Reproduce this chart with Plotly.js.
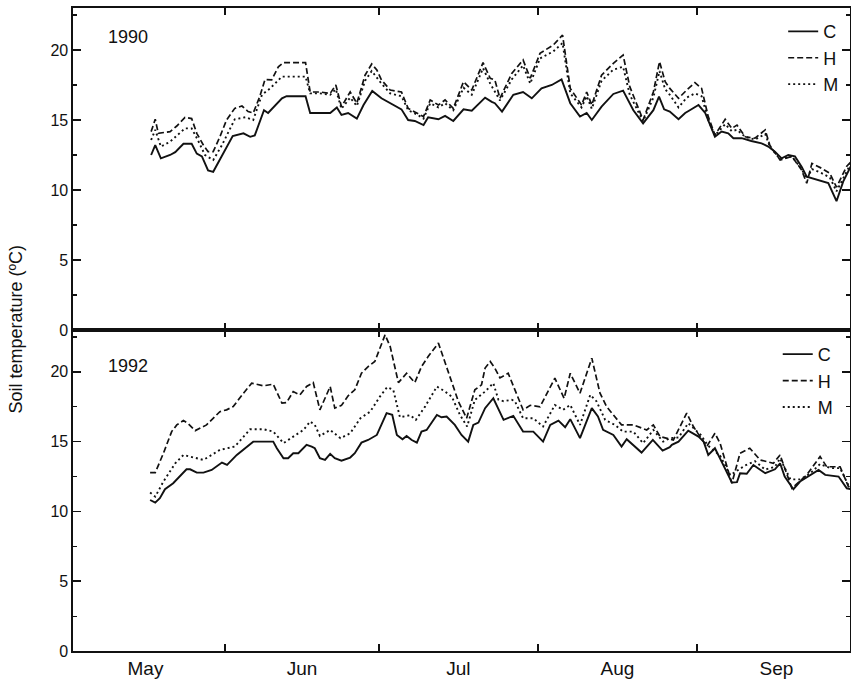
<!DOCTYPE html>
<html>
<head>
<meta charset="utf-8">
<script src="https://cdn.plot.ly/plotly-3.0.1.min.js"></script>
<style>html,body{margin:0;padding:0;background:#fff;}#chart{width:851px;height:681px;}</style>
</head>
<body>
<div id="chart"></div>
<script>
// Day offsets from 1 May (0 = May 1) and soil temperatures (°C)
const dayC90 = [16.6,17.4,18.5,20.3,21.3,22.9,24.5,25.5,26.5,27.7,28.7,30.7,32.5,34.6,35.9,36.8,38.6,39.4,42.1,43.0,46.7,47.6,49.5,51.5,52.8,53.7,55.0,56.7,58.0,59.7,61.5,63.8,65.4,66.7,68.0,69.7,70.6,72.6,73.9,75.5,77.5,79.1,81.7,83.0,83.6,85.0,87.2,89.1,90.8,92.7,94.7,96.6,98.3,100.2,101.5,102.5,104.4,106.7,108.6,110.6,112.5,114.5,115.6,116.6,117.7,119.4,120.7,121.6,123.3,124.6,126.5,127.8,129.1,130.1,131.7,133.6,135.6,136.9,138.2,139.5,140.8,142.1,143.4,144.4,145.4,147.3,148.6,150.2,151.5,153.0];
const tempC90 = [12.5,13.2,12.26,12.5,12.7,13.3,13.3,12.6,12.4,11.4,11.3,12.6,13.86,14.05,13.8,13.9,15.7,15.5,16.55,16.7,16.7,15.5,15.5,15.5,15.9,15.36,15.5,15.1,16.07,17.07,16.55,16.07,15.76,15.0,14.93,14.64,15.19,15.05,15.29,14.93,15.76,15.67,16.6,16.3,16.2,15.6,16.8,17.0,16.55,17.26,17.5,17.9,16.2,15.24,15.5,15.0,15.95,16.86,17.1,15.7,14.76,15.7,16.67,15.76,15.6,15.05,15.5,15.7,16.07,15.5,13.8,14.17,14.05,13.7,13.7,13.5,13.33,13.1,12.74,12.26,12.5,12.4,11.67,10.95,10.83,10.6,10.5,9.2,10.6,11.7];

const dayH90 = [16.6,17.4,18.0,20.3,21.6,23.2,24.5,25.5,26.8,27.7,28.7,30.0,31.3,32.9,34.3,35.5,36.5,37.8,38.8,40.1,41.4,42.4,46.7,47.6,49.5,51.5,52.6,53.7,55.4,56.7,58.3,59.6,60.6,61.5,63.2,65.4,66.7,68.4,69.7,71.0,72.6,73.9,75.5,77.5,79.1,81.3,82.7,83.6,84.6,86.9,89.1,90.5,92.4,95.0,96.8,98.3,100.5,101.5,102.5,104.4,106.7,108.6,109.9,112.5,114.5,115.7,116.8,117.7,119.4,121.0,122.6,123.9,125.2,126.5,128.5,129.8,130.8,132.4,134.3,136.3,137.2,139.2,141.5,143.4,144.4,145.4,147.3,148.9,150.2,152.2,153.0];
const tempH90 = [14.17,15.05,14.05,14.17,14.57,15.19,15.1,14.05,13.2,12.74,12.74,13.8,15.0,15.83,16.0,15.6,15.5,16.7,17.9,17.86,18.8,19.1,19.1,17.0,17.0,16.9,17.5,15.95,17.0,16.2,18.2,19.0,18.57,17.86,17.14,17.0,15.83,15.5,15.24,16.43,16.07,16.43,15.83,17.74,17.14,19.1,17.98,17.86,16.55,18.33,19.29,17.98,19.76,20.36,21.07,17.26,16.07,17.0,16.07,18.2,19.05,19.64,17.38,15.0,17.0,19.17,17.74,17.26,16.55,17.14,17.67,17.26,15.24,13.93,15.05,14.4,14.64,13.8,13.7,14.29,13.2,12.14,12.4,11.43,10.48,11.9,11.55,11.19,10.2,11.7,12.0];

const dayM90 = [16.6,17.4,18.5,20.3,23.2,24.5,25.7,27.1,28.7,30.4,32.9,35.0,36.5,38.2,39.8,42.1,46.7,47.6,49.5,51.5,52.6,53.7,55.4,56.7,58.3,59.6,61.5,63.2,65.4,66.7,68.4,69.7,71.0,72.6,73.9,75.5,77.5,79.1,81.3,82.7,84.6,86.9,89.1,90.5,92.4,95.0,96.8,98.3,100.5,101.5,102.5,104.4,106.7,108.6,109.9,112.5,114.5,115.7,116.8,117.7,119.4,121.0,122.6,123.9,125.2,126.5,128.5,129.8,130.8,132.4,134.3,136.3,137.2,139.2,141.5,143.4,144.4,145.4,147.3,148.9,150.2,152.2,153.0];
const tempM90 = [13.57,14.3,13.1,13.45,14.4,14.4,13.57,12.5,12.14,13.2,15.05,15.2,15.0,16.8,17.26,18.1,18.1,16.9,16.9,16.8,17.2,15.8,16.6,16.0,17.8,18.5,17.6,16.9,16.7,15.7,15.4,15.1,16.2,15.9,16.2,15.7,17.3,16.8,18.7,17.6,16.4,17.9,18.9,17.6,19.4,19.9,20.5,16.9,15.9,16.7,15.8,17.8,18.6,18.8,16.8,14.9,16.6,18.5,17.2,16.8,15.9,16.6,16.9,16.7,15.0,13.9,14.7,14.2,14.3,13.8,13.6,14.0,13.1,12.2,12.4,11.5,10.8,11.5,11.2,10.9,9.9,11.4,11.9];

const dayC92 = [16.4,17.4,18.3,19.3,20.9,22.2,23.5,24.2,25.5,26.8,28.4,30.4,31.4,33.3,36.5,38.5,40.4,41.1,42.4,43.3,44.3,45.3,46.9,47.9,48.5,49.5,50.5,51.5,52.4,53.7,55.4,56.3,57.6,58.9,60.6,62.5,63.6,64.5,65.6,66.4,67.4,68.4,69.3,70.3,72.3,73.2,74.2,75.8,77.1,78.4,79.4,80.4,81.7,83.3,84.3,85.3,87.2,89.1,91.1,93.0,94.4,96.0,97.3,98.3,100.2,101.2,102.5,103.7,104.7,106.7,108.3,109.3,110.6,112.2,114.4,116.3,117.7,118.1,119.4,121.3,123.3,124.3,125.2,126.5,127.8,129.8,130.8,131.4,132.7,134.0,134.9,136.3,138.2,139.2,140.1,141.8,143.1,144.7,146.7,148.0,150.6,152.2,153.0];
const tempC92 = [10.82,10.63,10.95,11.59,12.02,12.5,13.02,13.02,12.78,12.78,12.97,13.5,13.33,14.05,15.0,15.0,15.0,14.53,13.81,13.81,14.17,14.17,14.77,14.65,14.53,13.81,13.69,14.12,13.81,13.64,13.86,14.17,14.93,15.12,15.48,17.04,16.92,15.48,15.17,15.41,15.12,14.93,15.72,15.84,16.92,16.75,16.8,16.2,15.48,15.0,16.2,16.37,17.4,18.11,17.28,16.56,16.85,15.72,15.72,15.0,16.2,16.51,16.03,16.61,15.25,16.2,17.4,16.8,15.84,15.48,14.65,15.17,14.77,14.22,15.12,14.36,14.6,14.77,15.0,15.79,15.36,15.0,14.05,14.53,13.57,12.07,12.1,12.74,12.7,13.33,13.1,12.74,13.02,13.45,12.5,11.59,12.14,12.5,12.97,12.62,12.5,11.66,11.6];

const dayH92 = [16.4,17.4,19.0,20.6,21.6,22.9,23.8,25.2,27.4,30.0,31.3,32.6,34.6,36.2,38.5,40.4,42.1,43.0,44.3,45.6,46.9,48.2,49.5,51.5,52.4,53.7,55.0,56.3,57.6,58.9,60.2,62.2,63.2,64.8,66.4,68.0,69.3,70.6,72.6,74.5,76.5,78.1,79.7,81.0,81.7,82.7,83.6,84.6,86.2,89.1,90.5,92.4,95.3,97.1,98.3,100.2,102.5,104.1,105.4,108.3,110.6,113.2,114.5,115.8,118.4,121.0,122.3,124.9,126.5,127.5,129.8,131.4,133.3,135.3,137.9,139.2,141.5,144.4,147.0,148.3,150.9,152.5,153.0];
const tempH92 = [12.78,12.78,14.17,15.72,16.2,16.51,16.3,15.79,16.2,17.15,17.28,17.51,18.47,19.19,19.0,19.12,17.76,17.8,18.59,18.35,18.95,19.23,17.28,18.95,17.4,17.6,18.28,18.71,19.9,20.38,20.74,22.65,21.81,19.23,19.9,19.23,20.38,21.1,22.06,20.02,17.87,16.68,18.71,19.07,20.27,20.74,20.27,19.57,19.9,17.28,17.6,17.5,19.55,18.1,19.9,18.47,20.98,18.47,17.5,16.2,16.2,15.84,16.2,15.36,15.12,17.04,16.08,14.65,15.6,14.89,12.02,14.17,14.53,13.69,13.45,14.05,11.66,12.62,13.93,13.2,13.2,11.8,11.7];

const dayM92 = [16.4,17.4,19.0,21.3,22.9,24.2,26.8,30.0,32.9,35.9,38.5,40.4,42.4,44.3,46.3,47.6,48.5,49.5,51.5,53.5,55.4,57.4,59.3,61.2,62.6,63.8,65.1,67.1,68.2,70.0,72.3,73.9,75.2,76.8,78.2,79.7,81.7,83.3,84.3,85.3,86.9,87.5,89.1,91.1,93.0,95.3,96.9,98.3,100.2,102.2,103.4,105.1,107.0,108.6,110.6,112.5,114.5,116.4,117.7,119.4,121.3,123.7,125.2,127.5,129.5,132.4,134.3,136.3,138.2,139.2,141.2,143.1,145.0,147.0,149.0,150.9,152.5,153.0];
const tempM92 = [11.35,11.06,12.14,13.45,14.05,13.93,13.69,14.41,14.65,15.89,15.89,15.72,14.89,15.36,15.84,16.44,16.2,15.41,15.84,15.25,15.6,16.68,17.15,18.23,18.9,18.71,16.75,16.9,16.56,17.51,18.95,18.59,18.23,16.92,16.08,17.99,18.59,19.19,18.0,17.9,18.0,17.9,16.68,16.68,16.08,17.63,17.28,17.63,16.2,18.35,17.9,16.56,16.2,15.72,15.72,14.89,15.84,15.0,15.25,15.3,16.32,15.5,14.7,14.0,12.6,13.3,13.6,13.0,13.2,13.8,12.3,12.3,12.7,13.4,13.1,13.1,11.9,11.8];

const seriesNames = ['C', 'H', 'M'];
const yearLabels = ['1990', '1992'];
const yTitle = 'Soil temperature (ºC)';

function d2date(d) {
  const t = new Date(Date.UTC(1990, 4, 1) + Math.round(d * 864e5));
  return t.toISOString().slice(0, 19).replace('T', ' ');
}

const ink = '#111';
const styles = [
  {color: ink, width: 1.9, dash: 'solid'},
  {color: ink, width: 1.7, dash: '6px,3px'},
  {color: ink, width: 1.9, dash: '2px,3px'}
];

function mk(days, temps, i, top) {
  return {
    x: days.map(d2date), y: temps, type: 'scatter', mode: 'lines',
    name: seriesNames[i], line: styles[i],
    xaxis: top ? 'x2' : 'x', yaxis: top ? 'y2' : 'y',
    legend: top ? 'legend' : 'legend2',
    legendgroup: (top ? 't' : 'b') + i
  };
}

const data = [
  mk(dayC90, tempC90, 0, true), mk(dayH90, tempH90, 1, true), mk(dayM90, tempM90, 2, true),
  mk(dayC92, tempC92, 0, false), mk(dayH92, tempH92, 1, false), mk(dayM92, tempM92, 2, false)
];

const font = {family: 'Arial, "Liberation Sans", sans-serif', color: ink};
const split = 321 / 643;

const xBase = {
  type: 'date', range: [d2date(1.37), d2date(152.83)],
  tick0: '1990-05-01', dtick: 'M1', ticklabelmode: 'period', tickformat: '%b',
  ticks: 'inside', ticklen: 7, tickwidth: 1.5, tickcolor: ink,
  showline: true, linewidth: 1.6, linecolor: ink, mirror: 'ticks',
  showgrid: false, zeroline: false, tickfont: {size: 19}
};
const yBase = {
  range: [0, 23], tick0: 0, dtick: 5,
  ticks: 'inside', ticklen: 8, tickwidth: 1.5, tickcolor: ink,
  minor: {ticks: 'inside', ticklen: 4, tickwidth: 1.2, dtick: 2.5, tick0: 0, tickcolor: ink, showgrid: false},
  showline: true, linewidth: 1.6, linecolor: ink, mirror: 'ticks',
  showgrid: false, zeroline: false, tickfont: {size: 16}
};

const legBase = {
  xanchor: 'left', yanchor: 'top', bgcolor: 'rgba(0,0,0,0)', borderwidth: 0,
  font: {size: 18}, traceorder: 'grouped', tracegroupgap: 0, itemwidth: 30
};

const layout = {
  width: 851, height: 681,
  margin: {l: 73, r: 1, t: 8, b: 30},
  paper_bgcolor: '#fff', plot_bgcolor: '#fff',
  font: font,
  showlegend: true,
  xaxis: Object.assign({}, xBase, {anchor: 'y', domain: [0, 1]}),
  xaxis2: Object.assign({}, xBase, {anchor: 'y2', domain: [0, 1], showticklabels: false}),
  yaxis: Object.assign({}, yBase, {anchor: 'x', domain: [0, split]}),
  yaxis2: Object.assign({}, yBase, {anchor: 'x2', domain: [split, 1]}),
  legend: Object.assign({}, legBase, {x: 0.914, y: 0.992}),
  legend2: Object.assign({}, legBase, {x: 0.907, y: 0.490}),
  annotations: [
    {text: yearLabels[0], xref: 'paper', yref: 'paper', x: 0.0708, y: 0.955, xanchor: 'center', yanchor: 'middle', showarrow: false, font: {size: 18}},
    {text: yearLabels[1], xref: 'paper', yref: 'paper', x: 0.0708, y: 0.443, xanchor: 'center', yanchor: 'middle', showarrow: false, font: {size: 18}},
    {text: yTitle, xref: 'paper', yref: 'paper', x: -0.0746, y: 0.5, xanchor: 'center', yanchor: 'middle', textangle: -90, showarrow: false, font: {size: 18}}
  ]
};

Plotly.newPlot('chart', data, layout, {displayModeBar: false, staticPlot: true});
</script>
</body>
</html>
